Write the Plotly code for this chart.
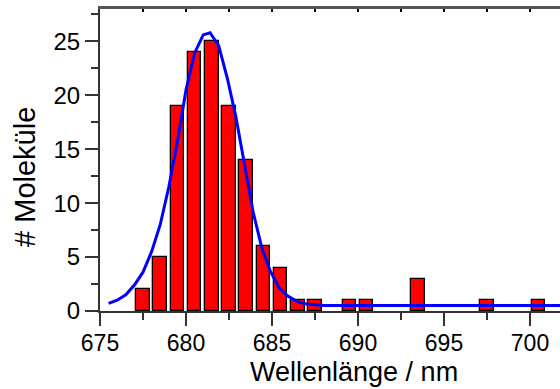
import plotly.graph_objects as go

# Histogram of emission wavelengths (bin centres in nm) and counts per bin
bin_center = [677.5, 678.5, 679.5, 680.5, 681.5, 682.5, 683.5, 684.5,
              685.5, 686.5, 687.5, 689.5, 690.5, 693.5, 697.5, 700.5]
counts = [2, 5, 19, 24, 25, 19, 14, 6, 4, 1, 1, 1, 1, 3, 1, 1]

# Fitted distribution curve, sampled points
fit_x = [675.5, 676.0, 676.5, 677.0, 677.5, 678.0, 678.5, 679.0, 679.5,
         680.0, 680.5, 681.0, 681.4, 681.9, 682.4, 682.9, 683.4, 683.9,
         684.4, 684.9, 685.4, 685.9, 686.5, 687.0, 687.5, 688.0, 690.0,
         695.0, 700.0, 702.0]
fit_y = [0.7, 1.0, 1.5, 2.4, 3.6, 5.5, 8.0, 11.5, 15.7,
         20.5, 23.9, 25.6, 25.8, 24.6, 21.6, 18.0, 13.6, 9.2,
         5.9, 3.7, 2.2, 1.4, 0.85, 0.65, 0.57, 0.52, 0.5,
         0.5, 0.5, 0.5]

x_ticks = [675, 680, 685, 690, 695, 700]
y_ticks = [0, 5, 10, 15, 20, 25]

FONT = "Liberation Sans"
AXIS_COLOR = "#333333"

fig = go.Figure()
fig.add_trace(go.Bar(
    x=bin_center, y=counts, width=0.78,
    marker=dict(color="#ff0000", line=dict(color="#000000", width=1.3)),
    showlegend=False,
))
fig.add_trace(go.Scatter(
    x=fit_x, y=fit_y, mode="lines",
    line=dict(color="#0000ff", width=3),
    showlegend=False,
))
# invisible trace that carries the top frame axis
fig.add_trace(go.Scatter(x=[675], y=[0], xaxis="x2", mode="markers",
                         marker=dict(opacity=0), showlegend=False,
                         hoverinfo="skip"))

fig.update_layout(
    width=560, height=389,
    margin=dict(l=100, r=0, t=9, b=78),
    paper_bgcolor="white", plot_bgcolor="white",
    font=dict(family=FONT, color="black"),
    bargap=0,
    xaxis=dict(
        range=[675, 701.744], tickvals=x_ticks,
        ticks="outside", ticklen=13, tickwidth=1.5, tickcolor=AXIS_COLOR,
        minor=dict(dtick=2.5, tick0=675, ticks="outside", ticklen=7,
                   tickwidth=1.5, tickcolor=AXIS_COLOR),
        showline=True, linecolor=AXIS_COLOR, linewidth=2,
        showgrid=False, zeroline=False,
        tickfont=dict(size=23, family=FONT),
        ticklabelstandoff=-3,
    ),
    xaxis2=dict(
        overlaying="x", side="top", range=[675, 701.744],
        dtick=2.5, tick0=675, ticks="inside", ticklen=3, tickwidth=1.5,
        tickcolor="black", showticklabels=False,
        showline=True, linecolor="#555555", linewidth=2.5,
        showgrid=False, zeroline=False,
    ),
    yaxis=dict(
        range=[0, 28], tickvals=y_ticks,
        ticks="outside", ticklen=13, tickwidth=1.5, tickcolor=AXIS_COLOR,
        minor=dict(dtick=2.5, tick0=0, ticks="outside", ticklen=7,
                   tickwidth=1.5, tickcolor=AXIS_COLOR),
        showline=True, linecolor=AXIS_COLOR, linewidth=2,
        showgrid=False, zeroline=False,
        tickfont=dict(size=24, family=FONT),
    ),
    annotations=[
        dict(text="Wellenlänge / nm", xref="paper", yref="paper",
             x=0.552, y=-0.201, xanchor="center", yanchor="middle",
             showarrow=False, font=dict(size=27, family=FONT)),
        dict(text="# Moleküle", xref="paper", yref="paper",
             x=-0.163, y=0.444, xanchor="center", yanchor="middle",
             textangle=-90, showarrow=False,
             font=dict(size=29, family=FONT)),
    ],
)

fig.write_html("out.html")
